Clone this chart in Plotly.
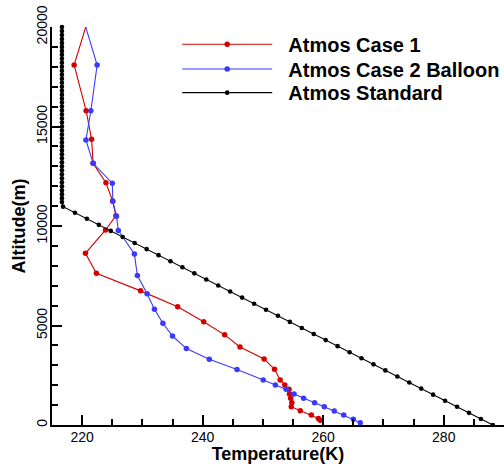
import plotly.graph_objects as go

# ---------------- data ----------------
case1_alt = [20300, 18090, 15795, 14355, 13150, 12170, 11260, 10510, 9800, 8627,
             7620, 6740, 5945, 5190, 4530, 3920, 3320, 2797, 2265, 2015,
             1794, 1558, 1340, 1122, 920, 719, 502, 330, 240]
case1_temp = [220.9, 218.67, 220.66, 221.57, 221.82, 223.95, 225.05, 225.6, 223.88, 220.55,
              222.37, 229.7, 235.85, 240.17, 243.65, 246.2, 250.2, 251.92, 252.86, 253.63,
              254.33, 254.4, 254.6, 254.8, 254.7, 256.2, 258.03, 259.2, 259.5]

case2_alt = [20300, 18090, 15790, 14320, 13150, 12150, 11240, 10490, 9780, 8590,
             7510, 6600, 5820, 5110, 4472, 3840, 3300, 2790, 2265, 2010,
             1794, 1558, 1340, 1122, 920, 703, 502, 290, 116]
case2_temp = [220.3, 222.49, 221.45, 220.63, 221.82, 225.0, 225.1, 225.7, 226.0, 228.67,
              229.17, 230.78, 232.0, 233.4, 235.0, 237.3, 241.1, 245.7, 250.05, 252.06,
              253.83, 255.16, 256.75, 258.57, 260.18, 261.84, 263.4, 265.0, 266.15]

std_alt = [0.0, 304.8, 609.6, 914.4, 1219.2, 1524.0, 1828.8, 2133.6, 2438.4, 2743.2,
           3048.0, 3352.8, 3657.6, 3962.4, 4267.2, 4572.0, 4876.8, 5181.6, 5486.4, 5791.2,
           6096.0, 6400.8, 6705.6, 7010.4, 7315.2, 7620.0, 7924.8, 8229.6, 8534.4, 8839.2,
           9144.0, 9448.8, 9753.6, 10058.4, 10363.2, 10668.0, 10972.8,
           11200, 11400, 11600, 11800, 12000, 12200, 12400, 12600, 12800, 13000,
           13200, 13400, 13600, 13800, 14000, 14200, 14400, 14600, 14800, 15000,
           15200, 15400, 15600, 15800, 16000, 16200, 16400, 16600, 16800, 17000,
           17200, 17400, 17600, 17800, 18000, 18200, 18400, 18600, 18800, 19000,
           19200, 19400, 19600, 19800, 20000]
std_temp = [288.15, 286.17, 284.19, 282.21, 280.22, 278.24, 276.26, 274.28, 272.30, 270.32,
            268.34, 266.36, 264.38, 262.39, 260.41, 258.43, 256.45, 254.47, 252.49, 250.51,
            248.53, 246.55, 244.56, 242.58, 240.60, 238.62, 236.64, 234.66, 232.68, 230.70,
            228.71, 226.73, 224.75, 222.77, 220.79, 218.81, 216.83,
            216.65, 216.65, 216.65, 216.65, 216.65, 216.65, 216.65, 216.65, 216.65, 216.65,
            216.65, 216.65, 216.65, 216.65, 216.65, 216.65, 216.65, 216.65, 216.65, 216.65,
            216.65, 216.65, 216.65, 216.65, 216.65, 216.65, 216.65, 216.65, 216.65, 216.65,
            216.65, 216.65, 216.65, 216.65, 216.65, 216.65, 216.65, 216.65, 216.65, 216.65,
            216.65, 216.65, 216.65, 216.65, 216.65]

x_ticks = [220, 240, 260, 280]
y_ticks = [0, 5000, 10000, 15000, 20000]
y_ticktext = ["0", "5000", "10000", "15000", "20000"]

FONT = "Liberation Sans, Arial, Helvetica, sans-serif"
NB = "\u00a0\u00a0"

fig = go.Figure()
fig.add_trace(go.Scatter(
    x=case1_temp, y=case1_alt, name=NB + "Atmos Case 1", mode="lines+markers",
    line=dict(color="#d40000", width=1.1),
    marker=dict(color="#d40000", size=5.5), legend="legend"))
fig.add_trace(go.Scatter(
    x=case2_temp, y=case2_alt, name=NB + "Atmos Case 2 Balloon", mode="lines+markers",
    line=dict(color="#3a3aff", width=1.1),
    marker=dict(color="#3a3aff", size=5.5), legend="legend2"))
fig.add_trace(go.Scatter(
    x=std_temp, y=std_alt, name=NB + "Atmos Standard", mode="lines+markers",
    line=dict(color="black", width=1.1),
    marker=dict(color="black", size=4.6), cliponaxis=False, legend="legend3"))

leg_common = dict(x=0.277, xanchor="left", yanchor="middle",
                  bgcolor="rgba(0,0,0,0)", itemwidth=90,
                  font=dict(size=20, family=FONT, weight="bold"))

fig.update_layout(
    width=504, height=464,
    margin=dict(l=52, r=0, t=27, b=39, autoexpand=False),
    paper_bgcolor="white", plot_bgcolor="white",
    font=dict(family=FONT, color="black"),
    showlegend=True,
    legend=dict(y=0.9565, **leg_common),
    legend2=dict(y=0.8945, **leg_common),
    legend3=dict(y=0.835, **leg_common),
    xaxis=dict(range=[215, 290], tickvals=x_ticks, showgrid=False, zeroline=False,
               showline=True, linecolor="black", linewidth=2,
               ticks="inside", ticklen=10, tickwidth=2, tickcolor="black",
               minor=dict(dtick=5, tick0=215, ticks="inside", ticklen=6, tickwidth=1.5,
                          tickcolor="black", showgrid=False),
               tickfont=dict(size=14), ticklabelstandoff=-2,
               title=dict(text="<b>Temperature(K)</b>", font=dict(size=18), standoff=3)),
    yaxis=dict(range=[0, 20000], tickvals=y_ticks, ticktext=y_ticktext,
               showgrid=False, zeroline=False,
               showline=True, linecolor="black", linewidth=2,
               ticks="inside", ticklen=10, tickwidth=2, tickcolor="black",
               minor=dict(dtick=1000, ticks="inside", ticklen=6, tickwidth=1.5,
                          tickcolor="black", showgrid=False),
               tickfont=dict(size=14), tickangle=-90, ticklabelstandoff=-3,
               title=dict(text="<b>Altitude(m)</b>", font=dict(size=18), standoff=4)),
)

fig.write_html("out.html")
